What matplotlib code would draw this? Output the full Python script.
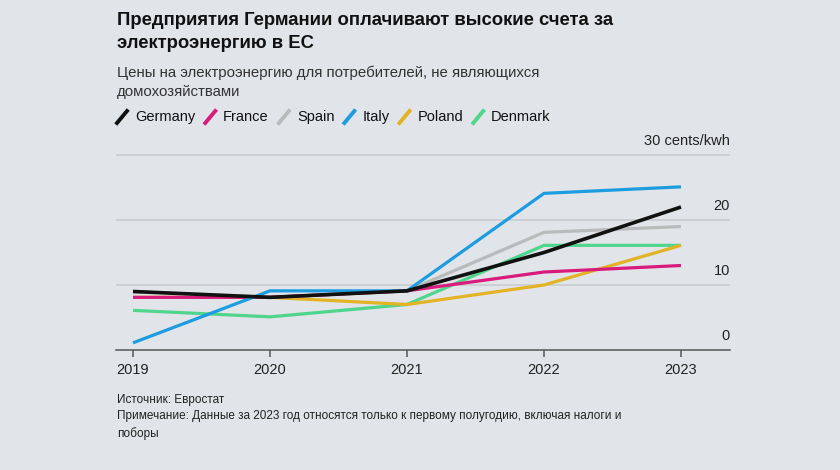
import matplotlib
matplotlib.use("Agg")
import matplotlib.pyplot as plt
from matplotlib.lines import Line2D

plt.rcParams['font.family'] = ['Liberation Sans', 'DejaVu Sans']

# data (cents/kwh)
years = [2019, 2020, 2021, 2022, 2023]
germany = [9.0, 8.1, 9.1, 15.0, 22.0]
france = [8.1, 8.1, 9.1, 12.0, 13.0]
spain = [9.0, 8.1, 9.1, 18.1, 19.0]
italy = [1.1, 9.1, 9.1, 24.1, 25.1]
poland = [8.1, 8.1, 7.0, 10.0, 16.1]
denmark = [6.1, 5.1, 7.0, 16.1, 16.1]

countries = ["Germany", "France", "Spain", "Italy", "Poland", "Denmark"]
colors = ["#111111", "#d81b7c", "#b9babc", "#1d9de0", "#e2b324", "#4fd58c"]
series = [germany, france, spain, italy, poland, denmark]
y_ticks = [0, 10, 20, 30]
y_labels = ["0", "10", "20", "30 cents/kwh"]

bg = "#e1e4e8"
W, H = 840, 470
fig = plt.figure(figsize=(W / 100, H / 100), dpi=100, facecolor=bg)

# axes placed in pixel terms
left, right, top, bottom = 116, 730, 150, 350
ax = fig.add_axes([left / W, 1 - bottom / H, (right - left) / W, (bottom - top) / H])
ax.set_facecolor(bg)

# draw order: Germany last so it sits on top
order = [2, 5, 4, 1, 3, 0]
for i in order:
    ax.plot(years, series[i], color=colors[i], lw=2.3 if i else 2.6,
            solid_capstyle="butt", solid_joinstyle="round", zorder=3 + order.index(i))

ax.set_xlim(2019 - 17 / 137, 2023 + 49 / 137)
ax.set_ylim(0, (bottom - top) / 6.5)

for v in y_ticks[1:]:
    ax.axhline(v, color="#c6c9cd", lw=1.1, zorder=1)
for v, lab in zip(y_ticks, y_labels):
    ax.annotate(lab, xy=(1, v), xycoords=("axes fraction", "data"),
                xytext=(0, 5), textcoords="offset points",
                ha="right", va="bottom", fontsize=10.5, color="#222222")

for s in ["top", "right", "left"]:
    ax.spines[s].set_visible(False)
ax.spines["bottom"].set_color("#555555")
ax.spines["bottom"].set_linewidth(1.1)
ax.set_yticks([])
ax.set_xticks(years)
ax.set_xticklabels([str(y) for y in years])
ax.tick_params(axis="x", length=5, width=1.1, color="#555555", pad=4,
               labelsize=10.5, labelcolor="#222222")

# titles
fig.text(117 / W, 1 - 12 / H, "Предприятия Германии оплачивают высокие счета за\nэлектроэнергию в ЕС",
         ha="left", va="top", fontsize=13.3, fontweight="bold", color="#111111", linespacing=1.5)
fig.text(117 / W, 1 - 66 / H, "Цены на электроэнергию для потребителей, не являющихся\nдомохозяйствами",
         ha="left", va="top", fontsize=10.8, color="#333333", linespacing=1.45)

# legend with slash markers
fig.canvas.draw()
r = fig.canvas.get_renderer()
x = 117
ly = 1 - 117 / H
for name, c in zip(countries, colors):
    fig.add_artist(Line2D([x / W, (x + 10) / W], [1 - 123 / H, 1 - 111 / H],
                          color=c, lw=2.8, transform=fig.transFigure))
    t = fig.text((x + 18) / W, ly, name, ha="left", va="center", fontsize=10.5, color="#111111")
    w = t.get_window_extent(renderer=r).width
    x = x + 18 + w + 10

# footer
fig.text(117 / W, 1 - 394 / H, "Источник: Евростат\nПримечание: Данные за 2023 год относятся только к первому полугодию, включая налоги и\nпоборы",
         ha="left", va="top", fontsize=8.5, color="#222222", linespacing=1.5)

fig.savefig("out.png", dpi=100, facecolor=bg)
